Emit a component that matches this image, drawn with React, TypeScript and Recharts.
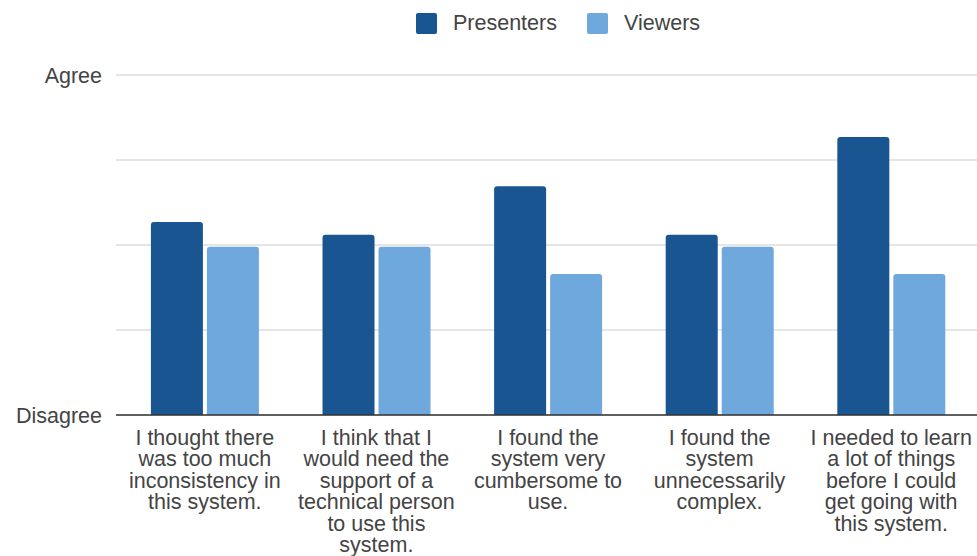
import { Bar, BarChart, CartesianGrid, Legend, XAxis, YAxis } from "recharts";

// survey statements (line breaks as shown under the axis)
const statements = [
  "I thought there\nwas too much\ninconsistency in\nthis system.",
  "I think that I\nwould need the\nsupport of a\ntechnical person\nto use this\nsystem.",
  "I found the\nsystem very\ncumbersome to\nuse.",
  "I found the\nsystem\nunnecessarily\ncomplex.",
  "I needed to learn\na lot of things\nbefore I could\nget going with\nthis system.",
];

// mean score, 1 = Disagree ... 5 = Agree
const presenters = [3.27, 3.12, 3.69, 3.12, 4.27];
const viewers = [2.98, 2.98, 2.66, 2.98, 2.66];

const scaleTicks = [1, 2, 3, 4, 5];
const scaleLabels: Record<number, string> = { 1: "Disagree", 5: "Agree" };

const DARK = "#195591";
const LIGHT = "#6fa8dc";
const TEXT = "#444444";
const FONT = "Arial, 'Liberation Sans', sans-serif";

const data = statements.map((s, i) => ({
  label: s,
  Presenters: presenters[i],
  Viewers: viewers[i],
}));

function StatementTick(props: any) {
  const { x, y, payload } = props;
  const lines = String(payload.value).split("\n");
  return (
    <text
      x={x}
      y={y + 30}
      textAnchor="middle"
      fill={TEXT}
      fontSize={21.5}
      fontFamily={FONT}
    >
      {lines.map((ln, i) => (
        <tspan key={i} x={x} dy={i === 0 ? 0 : 21.4}>
          {ln}
        </tspan>
      ))}
    </text>
  );
}

function LegendBox() {
  const item = (name: string, color: string, gap: number) => (
    <div style={{ display: "flex", alignItems: "center", marginRight: gap }}>
      <span
        style={{
          width: 21,
          height: 21,
          background: color,
          borderRadius: 2,
          display: "inline-block",
          marginRight: 16,
        }}
      />
      <span style={{ fontSize: 21.5, color: TEXT, fontFamily: FONT }}>{name}</span>
    </div>
  );
  return (
    <div style={{ display: "flex", alignItems: "center" }}>
      {item("Presenters", DARK, 30)}
      {item("Viewers", LIGHT, 0)}
    </div>
  );
}

export default function App() {
  return (
    <div style={{ position: "absolute", left: 0, top: 0, background: "#fff" }}>
      <BarChart
        width={977}
        height={556}
        data={data}
        margin={{ top: 75, right: 0, left: 0, bottom: 0 }}
        barCategoryGap="18.6%"
        barGap={4}
      >
        <CartesianGrid stroke="#cccccc" vertical={false} />
        <XAxis
          dataKey="label"
          height={141}
          padding={{ left: 3, right: 0 }}
          tick={<StatementTick />}
          tickLine={false}
          tickSize={0}
          tickMargin={0}
          axisLine={{ stroke: "#333333", strokeWidth: 1.5 }}
          interval={0}
        />
        <YAxis
          width={116}
          domain={[1, 5]}
          ticks={scaleTicks}
          allowDataOverflow
          tickFormatter={(v: number) => scaleLabels[v] ?? ""}
          tick={{ fontSize: 21.5, fill: TEXT, fontFamily: FONT }}
          axisLine={false}
          tickLine={false}
          tickSize={0}
          tickMargin={14}
        />
        <Legend
          layout="horizontal"
          verticalAlign="middle"
          align="center"
          content={<LegendBox />}
          wrapperStyle={{ top: 11, left: 416, width: "auto", height: "auto" }}
        />
        <Bar dataKey="Presenters" fill={DARK} radius={[3, 3, 0, 0]} isAnimationActive={false} />
        <Bar dataKey="Viewers" fill={LIGHT} radius={[3, 3, 0, 0]} isAnimationActive={false} />
      </BarChart>
    </div>
  );
}
